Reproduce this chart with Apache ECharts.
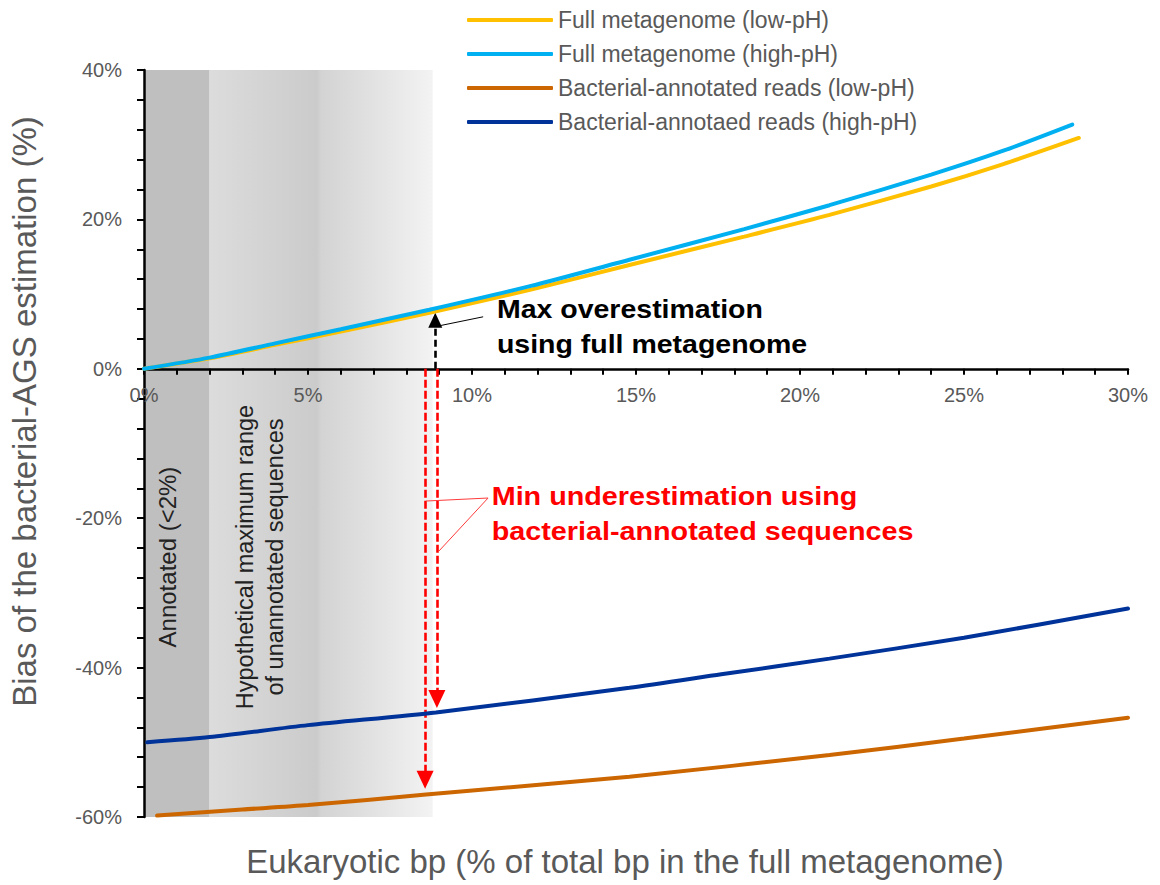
<!DOCTYPE html>
<html>
<head>
<meta charset="utf-8">
<script src="https://cdn.jsdelivr.net/npm/echarts@6/dist/echarts.min.js"></script>
<style>
html,body{margin:0;padding:0;background:#fff;}
#chart{width:1160px;height:885px;}
</style>
</head>
<body>
<div id="chart"></div>
<script>
// ---------- data ----------
const seriesNames = [
  'Full metagenome (low-pH)',
  'Full metagenome (high-pH)',
  'Bacterial-annotated reads (low-pH)',
  'Bacterial-annotaed reads (high-pH)'
];
const seriesColors = ['#FFC000', '#00B0F0', '#CC6600', '#003399'];

const fullLowX  = [0, 2, 4, 6, 8.7, 11.8, 14.8, 18.3, 20.9, 24, 26.2, 28.5];
const fullLowY  = [0, 1.4, 3.2, 5.0, 7.5, 10.6, 13.9, 17.7, 20.6, 24.4, 27.4, 30.9];
const fullHighX = [0, 2, 4, 6, 8.7, 11.8, 14.8, 18.3, 20.9, 24, 26.2, 28.3];
const fullHighY = [0, 1.5, 3.4, 5.3, 7.9, 11.1, 14.6, 18.7, 21.9, 26.0, 29.2, 32.7];
const bactLowX  = [0.4, 3, 5, 8.6, 14.8, 20.9, 25, 30];
const bactLowY  = [-59.8, -59.0, -58.4, -57.0, -54.6, -51.7, -49.5, -46.7];
const bactHighX = [0.1, 2, 5, 8.9, 14.8, 17.6, 20.9, 25, 30];
const bactHighY = [-50.0, -49.3, -47.7, -46.0, -42.7, -40.9, -38.8, -36.0, -32.1];

const xLabelValues = [0, 5, 10, 15, 20, 25, 30];
const yLabelValues = [-60, -40, -20, 0, 20, 40];

const annotatedRange = [0, 2];
const unannotatedRange = [2, 8.8];

const xTitle = 'Eukaryotic bp (% of total bp in the full metagenome)';
const yTitle = 'Bias of the bacterial-AGS estimation (%)';
const annotatedText = 'Annotated (<2%)';
const unannotatedText = 'Hypothetical maximum range\nof unannotated sequences';
const maxText = 'Max overestimation\nusing full metagenome';
const minText = 'Min underestimation using\nbacterial-annotated sequences';

// ---------- chart ----------
const zip = (xs, ys) => xs.map((x, i) => [x, ys[i]]);
const seriesData = [zip(fullLowX, fullLowY), zip(fullHighX, fullHighY), zip(bactLowX, bactLowY), zip(bactHighX, bactHighY)];

const FONT = '"Liberation Sans", Arial, sans-serif';
const chart = echarts.init(document.getElementById('chart'), null, {renderer: 'svg'});

const lineSeries = seriesNames.map((name, i) => ({
  name: name,
  type: 'line',
  data: seriesData[i],
  smooth: 0.25,
  showSymbol: false,
  symbol: 'none',
  z: 5,
  lineStyle: {color: seriesColors[i], width: 4, cap: 'round'},
  itemStyle: {color: seriesColors[i]}
}));

const dashRed = {color: '#FF0000', width: 2.6, type: [8, 3]};
const dashBlack = {color: '#000000', width: 2.6, type: [7, 4]};

const option = {
  animation: false,
  textStyle: {fontFamily: FONT},
  grid: {left: 144, right: 32, top: 70, bottom: 68, containLabel: false, outerBoundsMode: 'none'},
  legend: {
    orient: 'vertical', left: 462, top: 3,
    itemWidth: 86, itemHeight: 4, itemGap: 10,
    icon: 'roundRect', selectedMode: false,
    data: seriesNames,
    textStyle: {fontSize: 23, lineHeight: 24, color: '#595959', fontFamily: FONT}
  },
  xAxis: {
    type: 'value', min: 0, max: 30, interval: 1, z: 3,
    axisLine: {onZero: false, lineStyle: {color: '#000', width: 2.5}},
    axisTick: {length: 6, lineStyle: {color: '#000', width: 2}},
    splitLine: {show: false},
    axisLabel: {
      formatter: v => xLabelValues.includes(v) ? v + '%' : '',
      color: '#595959', fontSize: 20, margin: 16, fontFamily: FONT
    },
    name: xTitle, nameLocation: 'middle', nameGap: 28,
    nameTextStyle: {color: '#595959', fontSize: 33, fontFamily: FONT, padding: [0, 22, 0, 0]}
  },
  yAxis: {
    type: 'value', min: -60, max: 40, interval: 4, z: 3,
    axisLine: {show: true, lineStyle: {color: '#000', width: 2.5}},
    axisTick: {show: true, length: 7, lineStyle: {color: '#000', width: 2}},
    splitLine: {show: false},
    axisLabel: {
      formatter: v => yLabelValues.includes(v) ? v + '%' : '',
      color: '#595959', fontSize: 20, margin: 22, fontFamily: FONT
    },
    name: yTitle, nameLocation: 'middle', nameGap: 103,
    nameTextStyle: {color: '#595959', fontSize: 33, fontFamily: FONT, padding: [0, 0, 0, 64]}
  },
  series: [
    {
      name: 'shading', type: 'line', data: [], z: 1, silent: true,
      markArea: {
        silent: true,
        data: [
          [{xAxis: annotatedRange[0], itemStyle: {color: '#BFBFBF'}}, {xAxis: annotatedRange[1]}],
          [{xAxis: unannotatedRange[0], itemStyle: {color: {
            type: 'linear', x: 0, y: 0, x2: 1, y2: 0,
            colorStops: [
              {offset: 0, color: '#DCDCDC'},
              {offset: 0.48, color: '#CBCBCB'},
              {offset: 0.5, color: '#D3D3D3'},
              {offset: 1, color: '#F3F3F3'}
            ]}}}, {xAxis: unannotatedRange[1]}]
        ]
      }
    },
    ...lineSeries,
    {
      name: 'arrows', type: 'line', data: [], z: 8, silent: true,
      markLine: {
        silent: true, animation: false,
        symbol: ['none', 'triangle'],
        label: {show: false},
        emphasis: {disabled: true},
        data: [
          [{coord: [8.88, 0], symbol: 'none', lineStyle: dashBlack}, {coord: [8.88, 6.5], symbol: 'triangle', symbolSize: [14, 15]}],
          [{coord: [8.57, 0], symbol: 'none', lineStyle: dashRed}, {coord: [8.57, -55.0], symbol: 'triangle', symbolSize: [17, 18]}],
          [{coord: [8.93, 0], symbol: 'none', lineStyle: dashRed}, {coord: [8.93, -44.2], symbol: 'triangle', symbolSize: [17, 18]}],
          [{coord: [10.34, 6.96], symbol: 'none', lineStyle: {color: '#000', width: 1, type: 'solid'}}, {coord: [9.05, 5.8], symbol: 'none'}],
          [{coord: [10.49, -17.3], symbol: 'none', lineStyle: {color: '#FF3B3B', width: 1, type: 'solid'}}, {coord: [8.6, -17.7], symbol: 'none'}],
          [{coord: [10.49, -17.3], symbol: 'none', lineStyle: {color: '#FF3B3B', width: 1, type: 'solid'}}, {coord: [8.95, -24.6], symbol: 'none'}]
        ]
      }
    }
  ]
};

chart.setOption(option);

const px = (x, y) => chart.convertToPixel({gridIndex: 0}, [x, y]);
// move the x axis (line, ticks, labels) up to the y = 0 line
const zeroY = chart.convertToPixel({yAxisIndex: 0}, 0);
const bottomY = chart.convertToPixel({yAxisIndex: 0}, -60);
const shift = bottomY - zeroY;

const pAnn = px(0.73, -25.2);
const pUnann = px(3.55, -25.2);
const pMax = px(10.76, 5.55);
const pMin = px(10.6, -19.4);

chart.setOption({
  xAxis: {offset: -shift, nameGap: 28 + shift},
  graphic: [
    {type: 'text', x: pAnn[0], y: pAnn[1], rotation: Math.PI / 2, z: 10,
     style: {text: annotatedText, font: '24px ' + FONT, fill: '#222', align: 'center', verticalAlign: 'middle'}},
    {type: 'text', x: pUnann[0], y: pUnann[1], rotation: Math.PI / 2, z: 10,
     style: {text: unannotatedText, font: '23.5px ' + FONT, fill: '#222', align: 'center', verticalAlign: 'middle', lineHeight: 30}},
    {type: 'text', x: pMax[0], y: pMax[1], z: 10, scaleX: 1.14,
     style: {text: maxText, font: 'bold 25px ' + FONT, fill: '#000', align: 'left', verticalAlign: 'middle', lineHeight: 35}},
    {type: 'text', x: pMin[0], y: pMin[1], z: 10, scaleX: 1.15,
     style: {text: minText, font: 'bold 25px ' + FONT, fill: '#FF0000', align: 'left', verticalAlign: 'middle', lineHeight: 35}}
  ]
});
</script>
</body>
</html>
